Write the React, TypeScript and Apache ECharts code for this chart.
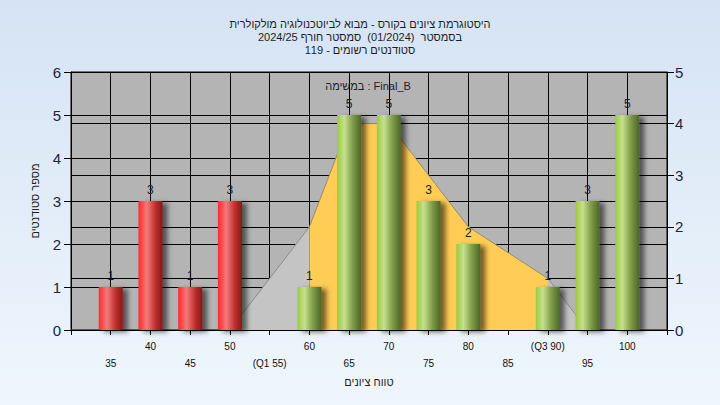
import React, { useEffect, useRef } from "react";
import * as echarts from "echarts";

const titleLines = [
  "היסטוגרמת ציונים בקורס - מבוא לביוטכנולוגיה מולקולרית",
  "בסמסטר  (01/2024)  סמסטר חורף 2024/25",
  "סטודנטים רשומים - 119",
];
const subTitle = "במשימה : Final_B";
const xAxisName = "טווח ציונים";
const yAxisName = "מספר סטודנטים";

const scores = [35, 40, 45, 50, 55, 60, 65, 70, 75, 80, 85, 90, 95, 100];
const counts = [1, 3, 1, 3, 0, 1, 5, 5, 3, 2, 0, 1, 3, 5];
const passScore = 55;
const tickLabels: Record<number, string> = { 55: "(Q1 55)", 90: "(Q3 90)" };

const curveX = [50, 55, 60, 65, 70, 75, 80, 85, 90, 95];
const curveY = [0, 1, 2, 4, 4, 3, 2, 1.5, 1, 0];
const q1Fill = 60;
const q3Fill = 90;

const redGrad = new echarts.graphic.LinearGradient(0, 0, 1, 0, [
  { offset: 0, color: "#ff2a2a" },
  { offset: 0.35, color: "#f27a7a" },
  { offset: 0.7, color: "#c03030" },
  { offset: 1, color: "#851818" },
]);
const greenGrad = new echarts.graphic.LinearGradient(0, 0, 1, 0, [
  { offset: 0, color: "#9cca40" },
  { offset: 0.3, color: "#c6e08e" },
  { offset: 0.65, color: "#7f9c48" },
  { offset: 1, color: "#4c6626" },
]);

export default function App() {
  const ref = useRef<HTMLDivElement>(null);
  useEffect(() => {
    if (!ref.current) return;
    const chart = echarts.init(ref.current, null, { renderer: "svg" });
    const barData = scores
      .map((s, i) => ({ s, c: counts[i] }))
      .filter((d) => d.c > 0)
      .map((d) => ({
        value: [d.s, d.c],
        itemStyle: { color: d.s < passScore ? redGrad : greenGrad },
      }));
    const pts = curveX.map((x, i) => [x, curveY[i]]);
    const leftPts = pts.filter((p) => p[0] <= q1Fill);
    const midPts = pts.filter((p) => p[0] >= q1Fill && p[0] <= q3Fill);
    const rightPts = pts.filter((p) => p[0] >= q3Fill);
    const areaSeries = (data: number[][], fill: string, line: string) => ({
      type: "line",
      yAxisIndex: 1,
      data,
      symbol: "none",
      z: 1,
      lineStyle: { color: line, width: 1 },
      areaStyle: { color: fill, opacity: 1 },
    });
    const font = "Liberation Sans, Arial, sans-serif";
    chart.setOption({
      animation: false,
      backgroundColor: new echarts.graphic.LinearGradient(0, 0, 0, 1, [
        { offset: 0, color: "#d5e3f4" },
        { offset: 1, color: "#eff6fd" },
      ]),
      textStyle: { fontFamily: font },
      title: {
        text: titleLines.join("\n"),
        left: "center",
        top: 12,
        textStyle: { fontSize: 11, fontWeight: "normal", color: "#1e1e1e", lineHeight: 13, fontFamily: font },
      },
      graphic: [
        {
          type: "text",
          x: 368,
          y: 86,
          style: { text: subTitle, fontSize: 11, fill: "#1e1e2a", align: "center", verticalAlign: "middle", fontFamily: font },
          z: 10,
        },
      ],
      grid: {
        left: 71,
        right: 53,
        top: 72,
        bottom: 75,
        show: true,
        backgroundColor: "#b4b4b4",
        borderColor: "#000",
        borderWidth: 1,
      },
      xAxis: {
        type: "value",
        min: 30,
        max: 105,
        interval: 5,
        name: xAxisName,
        nameLocation: "middle",
        nameGap: 44,
        nameTextStyle: { fontSize: 11, color: "#1e1e1e" },
        axisLine: { lineStyle: { color: "#000", width: 1 } },
        axisTick: { show: true, length: 5, lineStyle: { color: "#000" } },
        splitLine: { show: true, lineStyle: { color: "#000", width: 1 } },
        axisLabel: {
          fontSize: 10,
          color: "#111",
          lineHeight: 17,
          margin: 8,
          showMinLabel: true,
          showMaxLabel: true,
          formatter: (v: number) => {
            if (v < 35 || v > 100) return "";
            const t = tickLabels[v] ?? String(v);
            return v % 10 === 0 ? t : "\n" + t;
          },
        },
      },
      yAxis: [
        {
          type: "value",
          min: 0,
          max: 6,
          interval: 1,
          name: yAxisName,
          nameLocation: "middle",
          nameGap: 31,
          nameTextStyle: { fontSize: 11, color: "#1e1e1e" },
          axisLine: { show: true, lineStyle: { color: "#000" } },
          axisTick: { show: true, length: 7, lineStyle: { color: "#000" } },
          splitLine: { show: true, lineStyle: { color: "#000", width: 1 } },
          axisLabel: { fontSize: 15, color: "#1a2444", margin: 10 },
        },
        {
          type: "value",
          min: 0,
          max: 5,
          interval: 1,
          position: "right",
          axisLine: { show: true, lineStyle: { color: "#000" } },
          axisTick: { show: true, length: 7, lineStyle: { color: "#000" } },
          splitLine: { show: true, lineStyle: { color: "#000", width: 1 } },
          axisLabel: { fontSize: 15, color: "#1a2444", margin: 8 },
        },
      ],
      series: [
        areaSeries(leftPts, "#c4c4c4", "#8c8c8c"),
        areaSeries(midPts, "#ffcc55", "#9a8a68"),
        areaSeries(rightPts, "#c4c4c4", "#8c8c8c"),
        {
          type: "bar",
          yAxisIndex: 0,
          barWidth: 24,
          z: 3,
          data: barData,
          itemStyle: {
            shadowColor: "rgba(0,0,0,0.55)",
            shadowBlur: 5,
            shadowOffsetX: 5,
            shadowOffsetY: 2,
          },
          label: {
            show: true,
            position: "top",
            distance: 5,
            fontSize: 12,
            color: "#1a1a2a",
            formatter: (p: any) => String(p.value[1]),
          },
        },
      ],
    });
    return () => chart.dispose();
  }, []);
  return <div ref={ref} style={{ width: 720, height: 405, position: "absolute", left: 0, top: 0 }} />;
}
